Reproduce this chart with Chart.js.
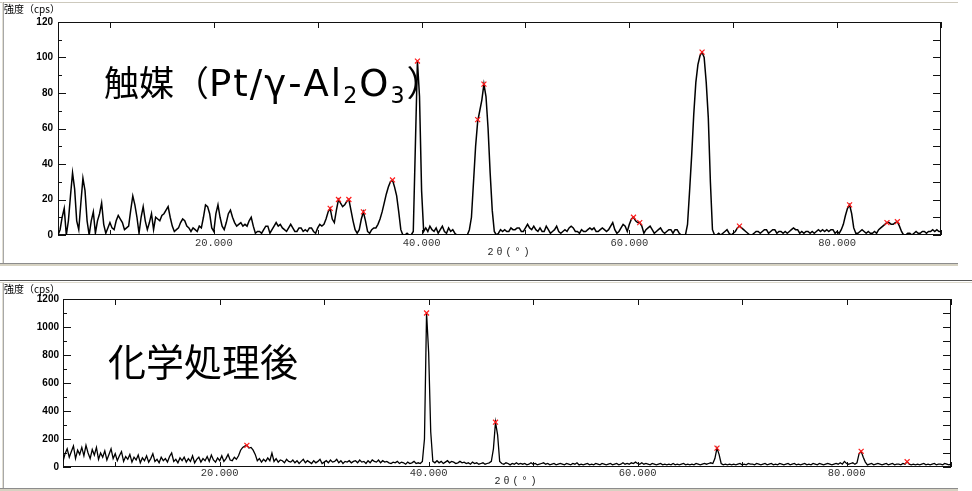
<!DOCTYPE html>
<html><head><meta charset="utf-8">
<script src="https://cdn.jsdelivr.net/npm/chart.js@4.4.1/dist/chart.umd.min.js"></script>
<style>
html,body{margin:0;padding:0;background:#fff;}
#wrap{position:relative;width:972px;height:491px;overflow:hidden;background:#fff;}
canvas{position:absolute;left:0;}
.ln{position:absolute;}
.ylab{position:absolute;font-family:"Noto Sans CJK JP";font-size:10px;line-height:10px;color:#000;white-space:nowrap;}
.xlab{position:absolute;font-family:"Liberation Mono",monospace;font-size:10px;line-height:10px;letter-spacing:3px;color:#222;white-space:nowrap;transform:translate(-50%,-50%);}
.title{position:absolute;font-family:"Noto Sans CJK JP";color:#000;white-space:nowrap;line-height:1;}
.title .lat{font-family:"DejaVu Sans";font-size:37px;letter-spacing:2px;}
.title sub{font-size:0.6em;vertical-align:-0.3em;line-height:0;}
</style></head>
<body>
<div id="wrap">
  <!-- window-like frame lines -->
  <div class="ln" style="left:0;top:2px;width:958px;height:1px;background:#cdc9bd;"></div>
  <div class="ln" style="left:2px;top:2px;width:1px;height:261px;background:#e2dfd3;"></div>
  <div class="ln" style="left:3px;top:2px;width:1px;height:261px;background:#a8a8a8;"></div>
  <div class="ln" style="left:0;top:263px;width:958px;height:1px;background:#8c8c8c;"></div>
  <div class="ln" style="left:0;top:264px;width:958px;height:2px;background:#d6d2c2;"></div>
  <div class="ln" style="left:0;top:280px;width:972px;height:1px;background:#555;"></div>
  <div class="ln" style="left:0;top:282px;width:972px;height:1px;background:#ddd9cc;"></div>
  <div class="ln" style="left:2px;top:283px;width:1px;height:206px;background:#e2dfd3;"></div>
  <div class="ln" style="left:3px;top:283px;width:1px;height:206px;background:#a8a8a8;"></div>
  <div class="ln" style="left:0;top:488px;width:958px;height:1px;background:#8c8c8c;"></div>
  <div class="ln" style="left:0;top:489px;width:958px;height:2px;background:#d6d2c2;"></div>

  <canvas id="top" width="972" height="262" style="top:0;width:972px;height:262px;"></canvas>
  <canvas id="bot" width="972" height="221" style="top:270px;width:972px;height:221px;"></canvas>

  <div class="ylab" style="left:4px;top:4px;">強度（cps）</div>
  <div class="ylab" style="left:4px;top:284px;">強度（cps）</div>
  <div class="xlab" style="left:510px;top:253px;">2θ(°)</div>
  <div class="xlab" style="left:517px;top:482px;">2θ(°)</div>

  <div class="title" style="left:104px;top:63px;font-size:35px;">触媒（<span class="lat">Pt/γ-Al<sub>2</sub>O<sub>3</sub></span>）</div>
  <div class="title" style="left:108px;top:341px;font-size:38px;">化学処理後</div>
</div>
<script>
// ---- data (2θ grid: start 5.0°, step 0.2°, to 90.0°) ----
const X_START = 5.0;
const X_STEP = 0.2;
const X_TICK_LABELS = [20, 40, 60, 80];

// Catalyst (Pt/γ-Al2O3), intensity in cps
const catalystCps = [
  0, 3, 10, 15, 0, 8, 22, 35, 26, 8,
  3, 18, 32, 25, 8, 0, 8, 13, 1, 8,
  12, 18, 6, 1, 4, 7, 4, 3, 8, 11,
  9, 7, 3, 4, 5, 14, 22, 17, 10, 1,
  10, 16, 8, 3, 7, 12, 3, 10, 9, 8,
  11, 12, 14, 16, 10, 5, 2, 3, 4, 7,
  9, 8, 5, 4, 2, 4, 3, 2, 5, 4,
  10, 17, 16, 12, 4, 2, 12, 17, 10, 5,
  3, 7, 12, 14, 10, 7, 5, 6, 7, 5,
  6, 5, 8, 10, 5, 1, 2, 2, 1, 3,
  5, 5, 1, 3, 5, 7, 5, 6, 4, 3,
  2, 4, 6, 4, 2, 2, 4, 4, 2, 3,
  2, 4, 4, 2, 1, 4, 6, 5, 6, 9,
  13, 15, 9, 7, 14, 20, 18, 16, 17, 19,
  20, 14, 8, 3, 1, 3, 9, 13, 8, 2,
  1, 3, 4, 4, 6, 9, 13, 18, 23, 27,
  30, 31, 27, 22, 13, 3, 0, 0, 1, 0,
  0, 2, 50, 98, 78, 25, 2, 4, 2, 5,
  3, 2, 4, 1, 3, 5, 2, 1, 4, 2,
  3, 1, 0, 0, 0, 0, 0, 0, 3, 10,
  30, 50, 64, 70, 76, 85, 78, 60, 35, 14,
  2, 0, 1, 3, 2, 3, 2, 2, 4, 3,
  3, 4, 4, 2, 2, 4, 6, 4, 3, 5,
  3, 2, 4, 2, 2, 5, 3, 1, 2, 3,
  5, 2, 1, 2, 3, 2, 4, 5, 4, 2,
  2, 1, 3, 2, 2, 3, 4, 3, 4, 2,
  2, 3, 4, 3, 2, 3, 5, 7, 3, 1,
  2, 4, 6, 5, 2, 6, 9, 10, 8, 7,
  7, 5, 1, 3, 4, 5, 3, 1, 2, 3,
  4, 2, 1, 2, 3, 3, 1, 3, 3, 1,
  0, 0, 0, 6, 25, 45, 68, 86, 96, 101,
  103, 100, 86, 66, 30, 3, 0, 0, 1, 0,
  1, 2, 3, 1, 0, 1, 2, 4, 5, 4,
  3, 2, 1, 0, 0, 1, 2, 2, 1, 2,
  3, 3, 1, 2, 3, 3, 1, 2, 2, 1,
  2, 1, 2, 3, 4, 3, 3, 1, 2, 1,
  2, 2, 1, 2, 1, 2, 3, 2, 3, 2,
  3, 2, 3, 3, 1, 2, 1, 3, 6, 11,
  15, 17, 12, 4, 1, 1, 2, 3, 2, 1,
  2, 1, 1, 2, 1, 3, 4, 5, 6, 7,
  7, 6, 6, 7, 7.5, 5, 2, 0, 0, 1,
  1, 0, 1, 2, 1, 1, 2, 2, 1, 2,
  2, 3, 2, 3, 2, 2
];
const catalystPeak2Theta = [31.2, 32.0, 33.0, 34.4, 37.2, 39.6, 45.4, 46.0, 60.4, 61.0, 67.0, 70.6, 81.2, 84.8, 85.8];
const catalystPeakCps    = [15, 20, 20, 13, 31, 98, 65, 85, 10, 7, 103, 5, 17, 7, 7.5];

// After chemical treatment, intensity in cps
const treatedCps = [
  40, 95, 130, 70, 110, 150, 60, 120, 90, 140,
  80, 155, 100, 60, 125, 85, 140, 55, 100, 70,
  115, 50, 90, 130, 60, 95, 45, 80, 110, 40,
  75, 55, 90, 35, 70, 50, 85, 30, 65, 45,
  80, 35, 60, 95, 40, 55, 30, 70, 45, 60,
  35, 75, 100, 40, 55, 30, 65, 45, 70, 35,
  60, 40, 80, 30, 55, 70, 35, 60, 45, 75,
  40, 85, 50, 35, 65, 45, 80, 40, 60, 90,
  50, 45, 70, 55, 80, 120, 140, 150, 155, 135,
  140, 120, 90, 45, 60, 35, 55, 40, 65, 45,
  100, 40, 60, 35, 50, 45, 30, 55, 40, 35,
  50, 30, 45, 25, 40, 55, 30, 45, 35, 25,
  45, 30, 40, 55, 25, 35, 45, 30, 50, 35,
  40, 55, 30, 45, 25, 40, 35, 45, 30, 40,
  45, 30, 50, 35, 40, 25, 45, 30, 50, 40,
  35, 50, 30, 45, 35, 40, 30, 25, 35, 30,
  40, 25, 35, 30, 20, 35, 25, 30, 40, 25,
  30, 25, 40, 200, 1100, 820, 250, 40, 30, 45,
  30, 40, 25, 35, 45, 30, 40, 35, 25, 30,
  40, 30, 35, 25, 30, 20, 35, 25, 30, 20,
  25, 30, 20, 25, 30, 40, 130, 320, 230, 40,
  25, 20, 30, 25, 15, 25, 20, 30, 20, 25,
  20, 25, 15, 20, 30, 20, 25, 15, 20, 25,
  30, 20, 25, 15, 20, 25, 15, 20, 25, 20,
  15, 25, 20, 15, 25, 20, 30, 15, 20, 15,
  20, 25, 15, 20, 15, 25, 20, 15, 25, 20,
  15, 20, 25, 15, 20, 25, 15, 20, 30, 20,
  25, 20, 30, 25, 35, 25, 20, 30, 20, 25,
  20, 15, 25, 20, 15, 20, 25, 15, 20, 15,
  20, 15, 25, 15, 20, 15, 20, 25, 15, 20,
  15, 20, 15, 25, 20, 15, 20, 25, 20, 25,
  30, 25, 60, 135, 90, 25, 15, 20, 15, 20,
  15, 20, 15, 20, 25, 15, 20, 15, 25, 20,
  20, 15, 25, 20, 15, 20, 25, 15, 20, 25,
  15, 20, 15, 25, 20, 15, 20, 25, 15, 20,
  25, 15, 20, 15, 20, 25, 15, 20, 15, 25,
  20, 15, 25, 20, 15, 20, 25, 20, 15, 20,
  25, 20, 30, 20, 40, 25, 20, 25, 30, 20,
  30, 95, 112, 70, 35, 15, 20, 25, 15, 20,
  25, 20, 15, 20, 25, 15, 20, 25, 15, 20,
  20, 15, 25, 20, 38, 20, 15, 20, 15, 20,
  15, 20, 25, 15, 20, 15, 20, 25, 15, 20,
  20, 15, 25, 20, 15, 20
];
const treatedPeak2Theta = [22.6, 39.8, 46.4, 67.6, 81.4, 85.8];
const treatedPeakCps    = [155, 1100, 320, 135, 112, 38];

// ---- chart building ----
function toPoints(vals){ return vals.map((v,i)=>({x:+(X_START + i*X_STEP).toFixed(1), y:v})); }
function toPeaks(xs, ys){ return xs.map((x,i)=>({x:x, y:ys[i]})); }

const framePlugin = {
  id:'frame',
  beforeDatasetsDraw(chart, args, o){
    const ctx = chart.ctx, a = chart.chartArea, xs = chart.scales.x, ys = chart.scales.y;
    ctx.save();
    ctx.strokeStyle = '#111'; ctx.lineWidth = 1;
    ctx.strokeRect(Math.round(a.left)+0.5, Math.round(a.top)+0.5, Math.round(a.right-a.left)-1, Math.round(a.bottom-a.top)-1);
    ctx.beginPath();
    for (let v = ys.min; v <= ys.max + 1e-9; v += o.yMinor){
      const py = Math.round(ys.getPixelForValue(v)) + 0.5;
      const major = Math.abs((v / o.yMajor) - Math.round(v / o.yMajor)) < 1e-6;
      const L = major ? 8 : 4;
      ctx.moveTo(a.left, py); ctx.lineTo(a.left + L, py);
      ctx.moveTo(a.right, py); ctx.lineTo(a.right - 8, py);
    }
    for (let v = 10; v <= xs.max; v += 10){
      const px = Math.round(xs.getPixelForValue(v)) + 0.5;
      ctx.moveTo(px, a.top); ctx.lineTo(px, a.top + 6);
      ctx.moveTo(px, a.bottom); ctx.lineTo(px, a.bottom - 5);
    }
    ctx.stroke();
    ctx.restore();
  }
};

function makeChart(id, vals, pkx, pky, cfg){
  return new Chart(document.getElementById(id), {
    type:'line',
    data:{ datasets:[
      { type:'scatter', data: toPeaks(pkx, pky), pointStyle:'crossRot', pointRadius:3.5,
        borderColor:'#ff1a1a', backgroundColor:'#ff1a1a', borderWidth:1.2, showLine:false },
      { data: toPoints(vals), borderColor:'#000', borderWidth:cfg.lw, pointRadius:0, tension:0, fill:false }
    ]},
    options:{
      responsive:false, animation:false, devicePixelRatio:1,
      layout:{ padding:{ left:0, top:cfg.top, right:cfg.right, bottom:0 } },
      plugins:{ legend:{display:false}, tooltip:{enabled:false}, frame:{ yMinor:cfg.yMinor, yMajor:cfg.yMajor } },
      scales:{
        x:{ type:'linear', min:5, max:90,
            grid:{display:false, drawTicks:false}, border:{display:false},
            afterBuildTicks: s => { s.ticks = X_TICK_LABELS.map(v=>({value:v})); },
            afterFit: s => { s.height = cfg.xh; },
            ticks:{ autoSkip:false, maxRotation:0, padding:cfg.xpad, color:'#333',
                    font:{family:'Liberation Mono', size:10.5}, callback: v => Number(v).toFixed(3) } },
        y:{ min:0, max:cfg.ymax,
            grid:{display:false, drawTicks:false}, border:{display:false},
            afterFit: s => { s.width = cfg.yw; },
            ticks:{ stepSize:cfg.yMajor, padding:cfg.ypad, color:'#000',
                    font:{family:'Liberation Sans', size:10, weight:'bold'}, callback: v => String(v) } }
      }
    },
    plugins:[framePlugin]
  });
}

makeChart('top', catalystCps, catalystPeak2Theta, catalystPeakCps,
  { top:22, right:31, yw:58, xh:27, ymax:120, yMinor:10, yMajor:20, xpad:2, ypad:5, lw:1.5 });
makeChart('bot', treatedCps, treatedPeak2Theta, treatedPeakCps,
  { top:29, right:21, yw:63, xh:24, ymax:1200, yMinor:100, yMajor:200, xpad:0, ypad:4, lw:1.3 });
</script>
</body></html>
